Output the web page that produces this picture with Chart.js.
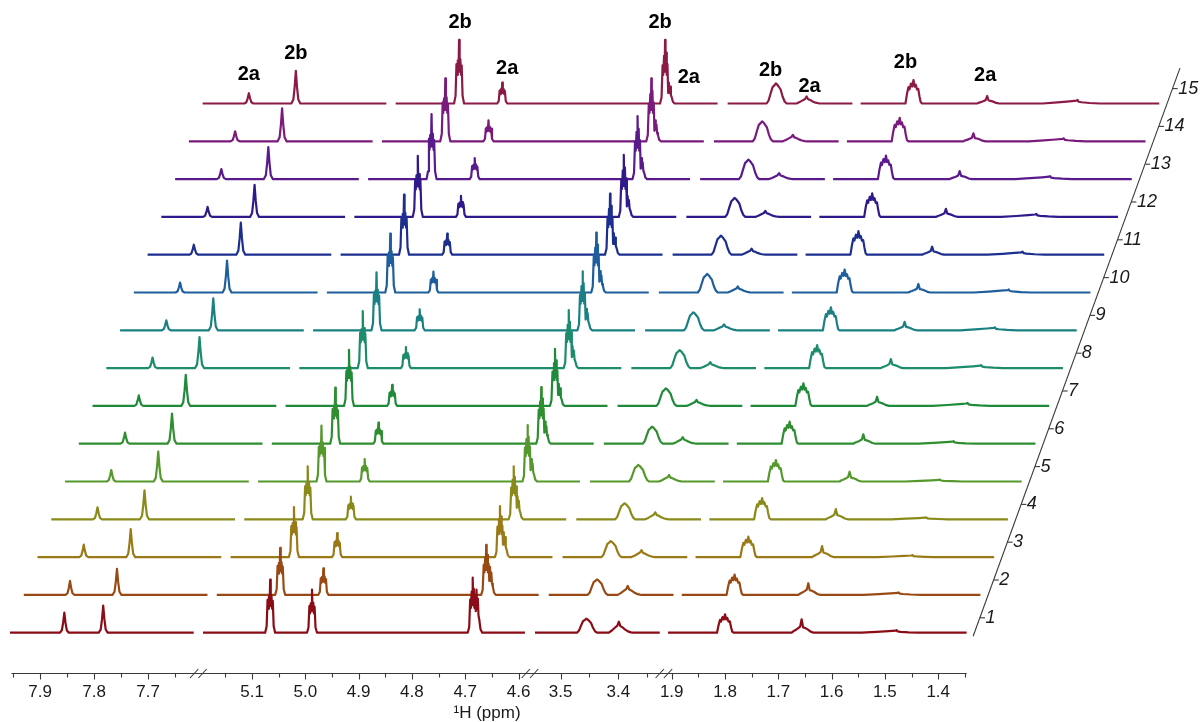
<!DOCTYPE html>
<html>
<head>
<meta charset="utf-8">
<title>Stacked 1H NMR spectra</title>
<script src="https://cdn.jsdelivr.net/npm/chart.js@4.4.1/dist/chart.umd.min.js"></script>
<style>
html,body{margin:0;padding:0;background:#ffffff;overflow:hidden;}
#wrap{position:relative;width:1201px;height:722px;}
canvas{display:block;}
</style>
</head>
<body>
<div id="wrap"><canvas id="nmr" width="1201" height="722"></canvas></div>
<script>
// ================= DATA =================
// spectrum numbers (right-hand axis)
const spectrumNumbers = [1,2,3,4,5,6,7,8,9,10,11,12,13,14,15];

// chemical shifts (ppm) of the signal groups: spectrum 1 and spectra 2-15
//   0: 2a arom, 1: 2b arom, 2: 2b, 3: 2a, 4: 2b (+2a shoulder), 5: 2b, 6: 2a, 7: 2b, 8: 2a, 9: minor
const ppmSpectrum1   = [7.855, 7.783, 5.066, 4.9875, 4.686, 3.4543, 3.399, 1.800, 1.6563, 1.478];
const ppmSpectra2to15 = [7.870, 7.783, 5.073, 4.992, 4.6865, 3.4596, 3.4075, 1.8079, 1.6696, 1.500];

// peak heights (intensity, a.u.) for spectra 1..15
const h2a_787 = [20, 14, 12.5, 12, 11.5, 11, 10.5, 10.5, 10, 10, 10, 10, 10, 10, 10.3];
const h2b_778 = [27, 26, 28, 29, 30, 30, 31, 31, 32, 32, 32, 32, 32, 33, 32.7];
const h2b_507 = [53, 47, 50, 53, 56, 56, 56, 57, 58, 59, 60, 61, 65, 63, 63.6];
const h2a_499 = [43, 26.5, 24, 22.6, 22.5, 21, 21, 21, 21, 21, 21, 21, 21, 21, 21];
const h2b_469 = [55, 50, 51, 53, 56.5, 56.5, 57, 58, 59, 60, 61, 62, 63, 63, 63.6];
const h2a_467 = [43, 28, 25, 23, 22.5, 22, 22, 22, 21.5, 21.5, 21.5, 21, 21, 21, 21];
const h2b_346 = [14, 15.5, 16, 16, 16.5, 17, 17.5, 18, 18, 18.5, 19, 19, 19.5, 20, 20];
const h2a_341 = [11, 9, 7, 7, 6.5, 6.5, 6, 6, 6, 6, 6, 6, 6, 6.5, 7];
const h2b_181 = [18.4, 20.3, 20.4, 21.3, 21.5, 22, 22.6, 23, 23, 23, 23.5, 23.5, 23.5, 23.5, 23.5];
const h2a_167 = [13.4, 11.7, 11, 10.3, 9.8, 9.4, 9.2, 9, 8.5, 8.5, 8, 8, 8, 8, 7.5];
const hMinor150 = [2.5, 2.5, 2, 2, 2, 2.5, 3, 3, 3, 3, 3, 3, 3, 3, 3.5];

// line shapes: [ppm offset from signal, relative intensity, component]
const shapeSinglet = [[0.0083,0],[0.0046,0.12],[0.0022,0.5],[0,1],[-0.0022,0.5],[-0.0046,0.12],[-0.0083,0]];
const shapeDoublet = [[0.0094,0],[0.0066,0.12],[0.0049,0.62],[0.0038,0.45],[0.0024,0.68],[0.0011,0.5],[0,1],
  [-0.0011,0.5],[-0.0024,0.7],[-0.0038,0.45],[-0.0049,0.6],[-0.0066,0.12],[-0.0094,0]];
const shapeMultiplet469 = [[0.0094,0,0],[0.0066,0.1,0],[0.0047,0.6,0],[0.0034,0.45,0],[0.0019,0.75,0],[0.0008,0.5,0],
  [0,1,0],[-0.0009,0.5,0],[-0.0021,0.8,0],[-0.0032,0.45,0],[-0.0045,0.62,0],
  [-0.0058,0.5,1],[-0.0071,1,1],[-0.0083,0.55,1],[-0.0096,0.8,1],[-0.0109,0.4,1],[-0.0124,0.3,1],[-0.0147,0.08,1],[-0.0179,0,1]];
const shapeBroad346 = [[0.0174,0],[0.0139,0.15],[0.0104,0.5],[0.007,0.82],[0.0035,0.92],[0.0014,1],[-0.0009,0.95],
  [-0.0035,0.85],[-0.007,0.7],[-0.0104,0.35],[-0.0139,0.1],[-0.0174,0]];
const shape341 = [[0.0174,0],[0.0122,0.2],[0.007,0.45],[0.0026,0.65],[0,1],[-0.0026,0.6],[-0.0061,0.5],[-0.0104,0.3],
  [-0.0157,0.12],[-0.0209,0.03],[-0.0244,0]];
const shape181 = [[0.015,0],[0.0122,0.4],[0.0094,0.7],[0.0075,0.6],[0.0047,0.85],[0.0023,0.72],[0,1],[-0.0023,0.72],
  [-0.0043,0.8],[-0.0066,0.6],[-0.009,0.62],[-0.0113,0.3],[-0.0135,0.06],[-0.016,0]];
const shape167 = [[0.0188,0],[0.015,0.12],[0.0122,0.18],[0.0075,0.3],[0.0028,0.45],[0,1],[-0.0028,0.4],[-0.0066,0.35],
  [-0.0113,0.25],[-0.0169,0.08],[-0.0226,0]];
const shapeMinor150 = [[0.0658,0],[0.0376,0.3],[0.015,0.6],[0.0019,0.8],[0,1],[-0.0019,0.5],[-0.0075,0.35],[-0.0226,0.15],[-0.0414,0]];

// x-axis tick labels (ppm) of the four axis pieces
const ticksPiece1 = [7.9, 7.8, 7.7];
const ticksPiece2 = [5.1, 5.0, 4.9, 4.8, 4.7, 4.6];
const ticksPiece3 = [3.5, 3.4];
const ticksPiece4 = [1.9, 1.8, 1.7, 1.6, 1.5, 1.4];
const axisTitle = '\u00B9H (ppm)';

// ================= LAYOUT / STYLE =================
const lineColors = ['#8b0c16','#994a14','#9a7a16','#8a8a1a','#55982c','#2f8e30','#1f8a3a','#1c8c6c','#1a8084',
  '#1e5e9c','#1d2f8e','#30198a','#5a1a8c','#7a1a7c','#8c1a46'];
// broken axis: ppm range of each piece, where it starts, axis units per ppm
const axisPieces = [
  {hi: 7.9556, lo: 7.6154, start: 10,  perPpm: 540, ticks: ticksPiece1},
  {hi: 5.192,  lo: 4.588,  start: 203, perPpm: 533, ticks: ticksPiece2},
  {hi: 3.5446, lo: 3.328,  start: 535, perPpm: 576, ticks: ticksPiece3},
  {hi: 1.907,  lo: 1.3467, start: 668, perPpm: 533, ticks: ticksPiece4}
];
const STEP_X = 13.76;   // horizontal shift between successive spectra (axis units)
const STEP_Y = 37.8;    // vertical shift between successive spectra (intensity units)
const AXIS_V = -40.6;   // position of ppm axis (intensity units)
const FONT = "'Liberation Sans', Arial, Helvetica, sans-serif";

function ppmToU(p) {
  for (const s of axisPieces) {
    if (p <= s.hi + 1e-9 && p >= s.lo - 1e-9) return s.start + (s.hi - p) * s.perPpm;
  }
  return NaN;
}

// signal groups built from the arrays above
const groups = [
  {idx: 0, shape: shapeSinglet, amps: [h2a_787]},
  {idx: 1, shape: shapeSinglet, amps: [h2b_778]},
  {idx: 2, shape: shapeDoublet, amps: [h2b_507]},
  {idx: 3, shape: shapeDoublet, amps: [h2a_499]},
  {idx: 4, shape: shapeMultiplet469, amps: [h2b_469, h2a_467]},
  {idx: 5, shape: shapeBroad346, amps: [h2b_346]},
  {idx: 6, shape: shape341, amps: [h2a_341]},
  {idx: 7, shape: shape181, amps: [h2b_181]},
  {idx: 8, shape: shape167, amps: [h2a_167]},
  {idx: 9, shape: shapeMinor150, amps: [hMinor150]}
];

// labels above spectrum 15: [text, group idx, component, ppm offset, dx px, dy px]
const peakLabels = [
  ['2a', 0, 0, 0, 0, -18.5], ['2b', 1, 0, 0, 0, -17.5],
  ['2b', 2, 0, 0, 1, -17.5], ['2a', 3, 0, 0, 5, -14],
  ['2b', 4, 0, 0, -5, -17.5], ['2a', 4, 1, -0.0071, 20, -5],
  ['2b', 5, 0, 0, -6, -13.5], ['2a', 6, 0, 0, 3, -10.5],
  ['2b', 7, 0, 0, -8, -18], ['2a', 8, 0, 0, -2, -21]
];

function buildSpectrum(k) {
  const shifts = k === 0 ? ppmSpectrum1 : ppmSpectra2to15;
  const pts = [];
  axisPieces.forEach(piece => {
    const seg = [[piece.hi, 0]];
    const inPiece = groups.filter(g => shifts[g.idx] <= piece.hi && shifts[g.idx] >= piece.lo)
      .sort((a, b) => shifts[b.idx] - shifts[a.idx]);
    inPiece.forEach(g => {
      g.shape.forEach(sp => {
        const p = shifts[g.idx] + sp[0];
        if (p < piece.hi && p > piece.lo) seg.push([p, sp[1] * g.amps[sp[2] || 0][k]]);
      });
    });
    seg.push([piece.lo, 0]);
    seg.forEach(([p, v]) => pts.push({x: ppmToU(p) + k * STEP_X, y: v + k * STEP_Y}));
    pts.push({x: ppmToU(piece.lo) + k * STEP_X + 1, y: null});
  });
  return pts;
}

const datasets = spectrumNumbers.map((n, k) => ({
  label: 'Spectrum ' + n,
  data: buildSpectrum(k),
  borderColor: lineColors[k],
  borderWidth: 2.2,
  pointRadius: 0,
  tension: 0,
  fill: false,
  spanGaps: false,
  borderJoinStyle: 'round',
  borderCapStyle: 'butt'
}));

const axesPlugin = {
  id: 'nmrAxes',
  afterDatasetsDraw(chart) {
    const ctx = chart.ctx, xs = chart.scales.x, ys = chart.scales.y;
    ctx.save();
    // ---- ppm axis ----
    const ay = Math.round(ys.getPixelForValue(AXIS_V)) + 0.5;
    const xStart = xs.getPixelForValue(axisPieces[0].start) + 1.5;
    const xEnd = xs.getPixelForValue(ppmToU(axisPieces[3].lo));
    ctx.strokeStyle = '#3a3a3a';
    ctx.lineWidth = 1.1;
    ctx.beginPath(); ctx.moveTo(xStart, ay); ctx.lineTo(xEnd, ay); ctx.stroke();
    ctx.fillStyle = '#1a1a1a';
    ctx.font = '17px ' + FONT;
    ctx.textAlign = 'center'; ctx.textBaseline = 'middle';
    axisPieces.forEach(piece => {
      // minor + major ticks every 0.05 ppm
      const first = Math.ceil(piece.lo / 0.05 - 1e-6), last = Math.floor(piece.hi / 0.05 + 1e-6);
      for (let m = first; m <= last; m++) {
        const p = m * 0.05;
        const major = piece.ticks.some(t => Math.abs(t - p) < 1e-6);
        const px = Math.round(xs.getPixelForValue(ppmToU(p))) + 0.5;
        ctx.beginPath(); ctx.moveTo(px, ay); ctx.lineTo(px, ay + (major ? 6 : 4)); ctx.stroke();
      }
      piece.ticks.forEach(t => {
        const px = xs.getPixelForValue(ppmToU(t));
        ctx.fillText(t.toFixed(1), px, ay + 18.5);
      });
    });
    // break marks
    for (let i = 0; i < axisPieces.length - 1; i++) {
      const endU = ppmToU(axisPieces[i].lo), nextU = axisPieces[i + 1].start;
      const mid = xs.getPixelForValue((endU + nextU) / 2);
      ctx.lineWidth = 1.1;
      [-8.3, 0].forEach(off => {
        ctx.beginPath(); ctx.moveTo(mid + off, ay + 4.5); ctx.lineTo(mid + off + 8.3, ay - 4.5); ctx.stroke();
      });
    }
    // axis title
    ctx.fillText(axisTitle, (xStart + xEnd) / 2 - 2, ay + 40);

    // ---- spectrum-number axis (slanted) ----
    const endU = ppmToU(axisPieces[3].lo);
    const tickPt = k => ({
      x: xs.getPixelForValue(endU + 13.4 + k * STEP_X),
      y: ys.getPixelForValue(15.4 + k * STEP_Y)
    });
    const slope = STEP_X / STEP_Y;
    const p0 = tickPt(0), pN = tickPt(spectrumNumbers.length - 1);
    ctx.lineWidth = 1.1;
    ctx.beginPath();
    ctx.moveTo(p0.x - slope * 19, p0.y + 19);
    ctx.lineTo(pN.x + slope * 20, pN.y - 20);
    ctx.stroke();
    ctx.font = 'italic 18px ' + FONT;
    ctx.textAlign = 'left';
    spectrumNumbers.forEach((n, k) => {
      const p = tickPt(k);
      ctx.beginPath(); ctx.moveTo(p.x, p.y + 0.5); ctx.lineTo(p.x + 5, p.y + 0.5); ctx.stroke();
      ctx.fillText(String(n), p.x + 5.5, p.y + 0.5);
    });

    // ---- peak labels above spectrum 15 ----
    const top = spectrumNumbers.length - 1;
    ctx.font = 'bold 20px ' + FONT;
    ctx.textAlign = 'center';
    ctx.fillStyle = '#000';
    peakLabels.forEach(([txt, gi, comp, dppm, dx, dy]) => {
      const g = groups[gi];
      const px = xs.getPixelForValue(ppmToU(ppmSpectra2to15[g.idx] + dppm) + top * STEP_X);
      const py = ys.getPixelForValue(top * STEP_Y + g.amps[comp][top]);
      ctx.fillText(txt, px + dx, py + dy);
    });
    ctx.restore();
  }
};

new Chart(document.getElementById('nmr'), {
  type: 'line',
  data: {datasets},
  options: {
    responsive: false,
    animation: false,
    devicePixelRatio: 1,
    events: [],
    layout: {padding: 0},
    plugins: {legend: {display: false}, tooltip: {enabled: false}, title: {display: false}},
    scales: {
      x: {type: 'linear', min: 0, max: 1201, display: false},
      y: {type: 'linear', min: -89.3, max: 632.7, display: false}
    }
  },
  plugins: [axesPlugin]
});
</script>
</body>
</html>
